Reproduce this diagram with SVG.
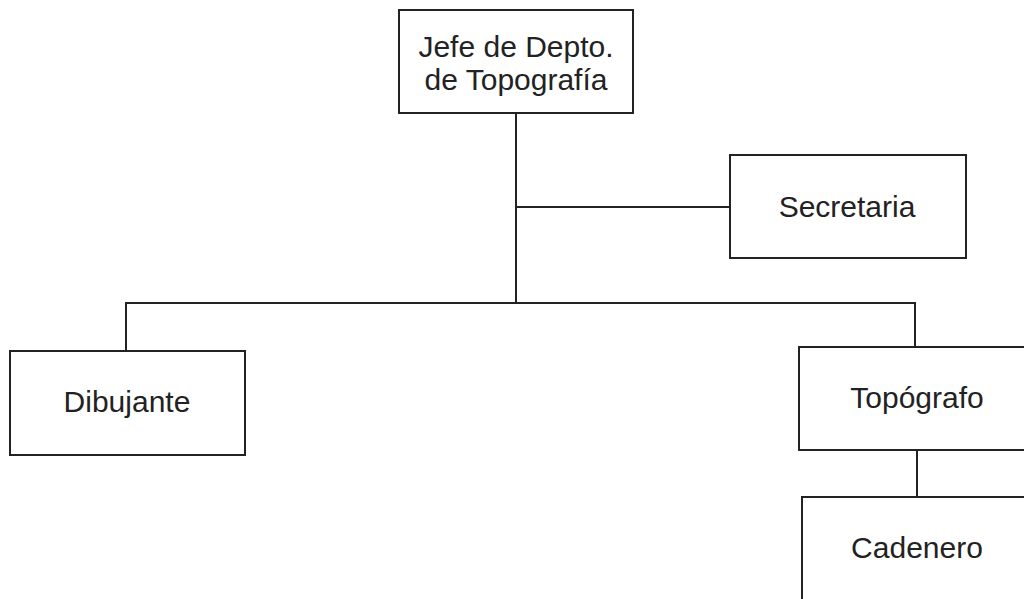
<svg xmlns="http://www.w3.org/2000/svg" width="1024" height="599" viewBox="0 0 1024 599">
<style>
.box{fill:#fff;stroke:#222;stroke-width:2}
.ln{fill:none;stroke:#222;stroke-width:2}
text{font-family:"Liberation Sans",Arial,sans-serif;font-size:30px;fill:#222;text-anchor:middle}
</style>
<rect width="1024" height="599" fill="#fff"/>
<g id="connectors">
<path class="ln" d="M516 113V303M516 207H730M126 351V303H915V347M917 450V497"/>
</g>
<g id="jefe"><rect class="box" x="399" y="10" width="234" height="103"/><text x="516" y="57">Jefe de Depto.</text><text x="516" y="90">de Topografía</text></g>
<g id="secretaria"><rect class="box" x="730" y="155" width="236" height="103"/><text x="847" y="217">Secretaria</text></g>
<g id="dibujante"><rect class="box" x="10" y="351" width="235" height="104"/><text x="127" y="412">Dibujante</text></g>
<g id="topografo"><rect class="box" x="799" y="347" width="236" height="103"/><text x="917" y="408">Topógrafo</text></g>
<g id="cadenero"><rect class="box" x="802" y="497" width="236" height="110"/><text x="917" y="558">Cadenero</text></g>
</svg>
